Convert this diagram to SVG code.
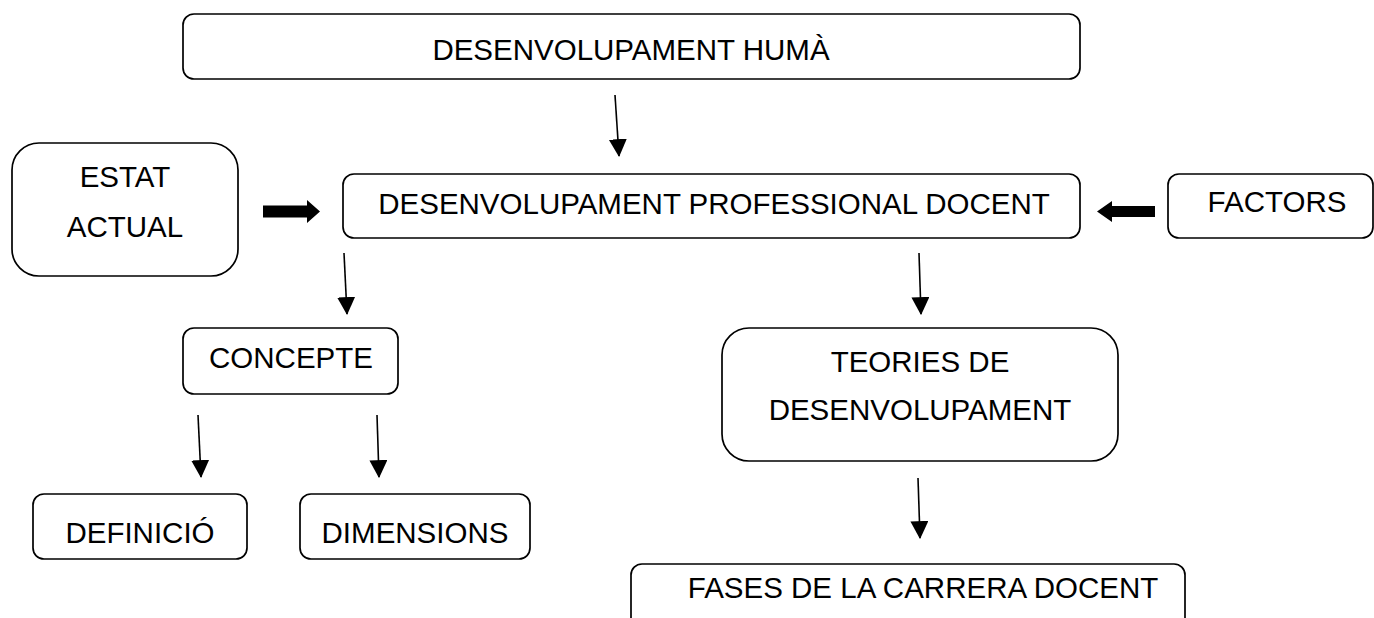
<svg xmlns="http://www.w3.org/2000/svg" width="1374" height="618" viewBox="0 0 1374 618">
  <style>
    .box { fill: #ffffff; stroke: #000000; stroke-width: 1.7; }
    .lbl { font-family: "Liberation Sans", Arial, sans-serif; font-size: 29.5px; fill: #000000; text-anchor: middle; }
    .link { stroke: #000000; stroke-width: 1.6; fill: none; marker-end: url(#head); }
    .thick { fill: #000000; stroke: none; }
  </style>
  <defs>
    <marker id="head" markerUnits="userSpaceOnUse" markerWidth="18" markerHeight="18" viewBox="0 0 16 16" refX="15" refY="8" orient="auto">
      <path d="M0,0 L16,8 L0,16 Z" fill="#000000"/>
    </marker>
  </defs>
  <rect width="1374" height="618" fill="#ffffff"/>

  <g id="desenvolupament-huma">
    <rect class="box" x="183" y="14" width="897" height="65" rx="11"/>
    <text class="lbl" x="631" y="60">DESENVOLUPAMENT HUMÀ</text>
  </g>

  <g id="estat-actual">
    <rect class="box" x="12" y="143" width="226" height="133" rx="27"/>
    <text class="lbl" x="125" y="187">ESTAT</text>
    <text class="lbl" x="125" y="237">ACTUAL</text>
  </g>

  <g id="desenvolupament-professional">
    <rect class="box" x="343" y="174" width="737" height="64" rx="11"/>
    <text class="lbl" x="714" y="214">DESENVOLUPAMENT PROFESSIONAL DOCENT</text>
  </g>

  <g id="factors">
    <rect class="box" x="1168" y="174" width="205" height="64" rx="11"/>
    <text class="lbl" x="1277" y="212">FACTORS</text>
  </g>

  <g id="concepte">
    <rect class="box" x="183" y="328" width="215" height="66" rx="11"/>
    <text class="lbl" x="291" y="368">CONCEPTE</text>
  </g>

  <g id="teories">
    <rect class="box" x="722" y="328" width="396" height="133" rx="27"/>
    <text class="lbl" x="920" y="372">TEORIES DE</text>
    <text class="lbl" x="920" y="420">DESENVOLUPAMENT</text>
  </g>

  <g id="definicio">
    <rect class="box" x="33" y="494" width="214" height="65" rx="11"/>
    <text class="lbl" x="140" y="543">DEFINICIÓ</text>
  </g>

  <g id="dimensions">
    <rect class="box" x="300" y="494" width="230" height="65" rx="11"/>
    <text class="lbl" x="415" y="543">DIMENSIONS</text>
  </g>

  <g id="fases">
    <rect class="box" x="631" y="564" width="554" height="80" rx="11"/>
    <text class="lbl" x="923" y="598">FASES DE LA CARRERA DOCENT</text>
  </g>

  <g id="connectors">
    <line class="link" x1="615" y1="95" x2="619" y2="156"/>
    <line class="link" x1="344" y1="253" x2="347" y2="314"/>
    <line class="link" x1="919" y1="253" x2="921" y2="314"/>
    <line class="link" x1="198" y1="415" x2="201" y2="477"/>
    <line class="link" x1="377" y1="415" x2="379" y2="477"/>
    <line class="link" x1="918" y1="478" x2="920" y2="538"/>
    <polygon class="thick" points="263,205.5 307,205.5 307,200 320,211.5 307,223 307,217.5 263,217.5"/>
    <polygon class="thick" points="1155,206 1112,206 1112,201 1097,211.5 1112,222 1112,217 1155,217"/>
  </g>
</svg>
